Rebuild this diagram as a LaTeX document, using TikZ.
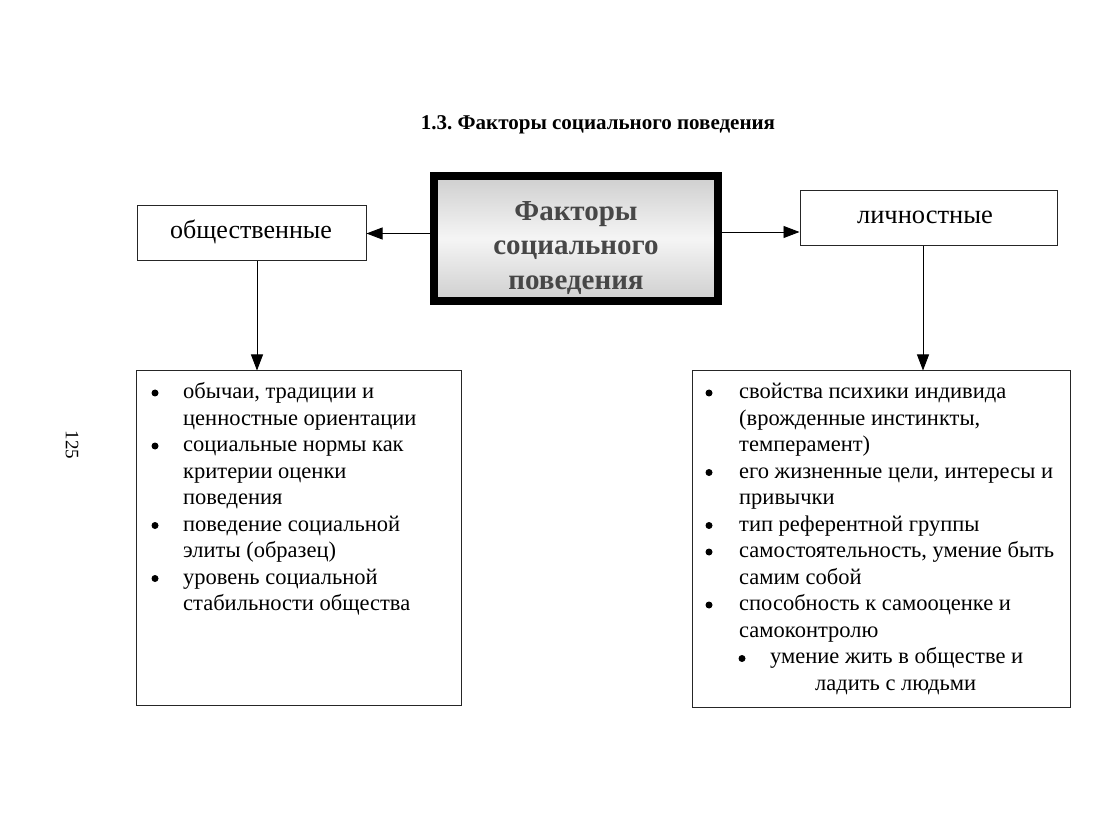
\documentclass[tikz,border=0pt]{standalone}
\usepackage{fontspec}
\setmainfont{Liberation Serif}
\usetikzlibrary{arrows.meta}
\frenchspacing
\begin{document}
\begin{tikzpicture}[x=1pt,y=-1pt,
  box/.style={draw=black!85,line width=1pt,rectangle,inner sep=0pt},
  arr/.style={draw=black,line width=0.9pt,-{Triangle[length=16pt,width=12pt]}},
  txt/.style={anchor=base west,inner sep=0pt,font=\fontsize{22.5}{26}\selectfont},
  dot/.style={circle,fill=black,inner sep=0pt,minimum size=7pt}]
\useasboundingbox (0,0) rectangle (1101,826);
\fill[white] (0,0) rectangle (1101,826);

% title
\node[inner sep=0pt,font=\bfseries\fontsize{21}{24}\selectfont] (title) at (598,125) {1.3. Факторы социального поведения};

% page number
\node[inner sep=0pt,rotate=-90,font=\fontsize{19}{22}\selectfont] (page) at (72,445) {125};

% central box
\node[draw=black,line width=8pt,rectangle,minimum width=284pt,minimum height=125pt,inner sep=0pt,
  top color=gray!38,bottom color=gray!38,middle color=gray!8] (center) at (576,238.5) {};
\node[inner sep=0pt,font=\bfseries\fontsize{29}{34.5}\selectfont,text=black!72,align=center] (ctext) at (576,248)
  {Факторы\\социального\\поведения};

% top boxes
\node[box,minimum width=229pt,minimum height=55pt] (topL) at (251.5,233.5) {};
\node[inner sep=0pt,font=\fontsize{26}{30}\selectfont] (topLt) at (251,232) {общественные};
\node[box,minimum width=257pt,minimum height=55pt] (topR) at (928.5,218.5) {};
\node[inner sep=0pt,font=\fontsize{26.5}{30}\selectfont] (topRt) at (925,217) {личностные};

% arrows horizontal
\draw[arr] (center.west |- 0,233.5) -- (topL.east |- 0,233.5);
\draw[arr] (center.east |- 0,232) -- (topR.west |- 0,232);

% lower boxes
\node[box,minimum width=325pt,minimum height=334pt] (botL) at (298.5,538) {};
\node[box,minimum width=378pt,minimum height=336pt] (botR) at (881,539) {};

% vertical arrows
\draw[arr] (topL.south -| 257,0) -- (botL.north -| 257,0);
\draw[arr] (topR.south -| 923,0) -- (botR.north -| 923,0);

% left list
\node[dot] (ld1) at (155,393) {};
\node[dot] (ld2) at (155,446) {};
\node[dot] (ld3) at (155,525.5) {};
\node[dot] (ld4) at (155,578.5) {};
\node[txt] (lt1) at (183,398.5) {обычаи, традиции и};
\node[txt] (lt2) at (183,425) {ценностные ориентации};
\node[txt] (lt3) at (183,451.5) {социальные нормы как};
\node[txt] (lt4) at (183,478) {критерии оценки};
\node[txt] (lt5) at (183,504.5) {поведения};
\node[txt] (lt6) at (183,531) {поведение социальной};
\node[txt] (lt7) at (183,557.5) {элиты (образец)};
\node[txt] (lt8) at (183,584) {уровень социальной};
\node[txt] (lt9) at (183,610.5) {стабильности общества};

% right list
\node[dot] (rd1) at (709,393) {};
\node[dot] (rd2) at (709,472.5) {};
\node[dot] (rd3) at (709,525.5) {};
\node[dot] (rd4) at (709,552) {};
\node[dot] (rd5) at (709,605) {};
\node[dot] (rd6) at (742,658.5) {};
\node[txt] (rt1) at (739,398.5) {свойства психики индивида};
\node[txt] (rt2) at (739,425) {(врожденные инстинкты,};
\node[txt] (rt3) at (739,451.5) {темперамент)};
\node[txt] (rt4) at (739,478) {его жизненные цели, интересы и};
\node[txt] (rt5) at (739,504.5) {привычки};
\node[txt] (rt6) at (739,531) {тип референтной группы};
\node[txt] (rt7) at (739,557.5) {самостоятельность, умение быть};
\node[txt] (rt8) at (739,584) {самим собой};
\node[txt] (rt9) at (739,610.5) {способность к самооценке и};
\node[txt] (rt10) at (739,637) {самоконтролю};
\node[txt] (rt11) at (770,663.5) {умение жить в обществе и};
\node[txt] (rt12) at (815,690) {ладить с людьми};
\end{tikzpicture}
\end{document}
